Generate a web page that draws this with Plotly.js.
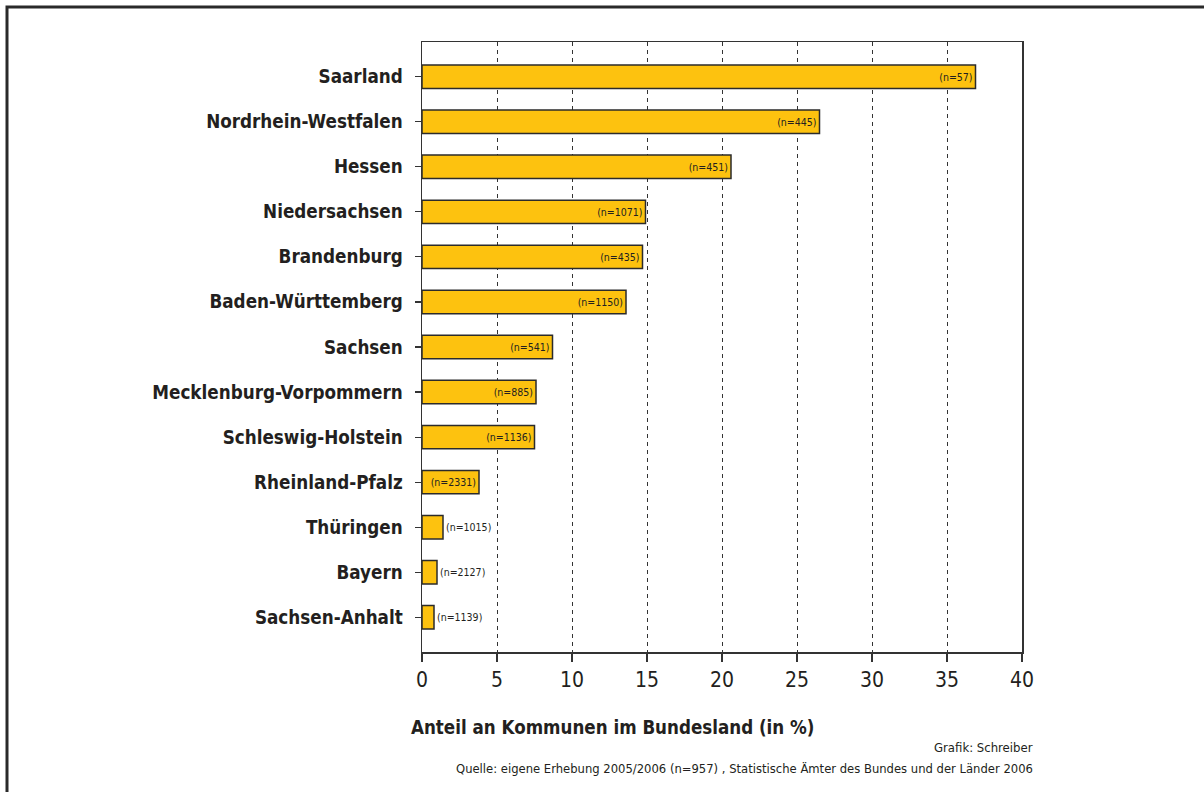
<!DOCTYPE html>
<html><head><meta charset="utf-8">
<script src="https://cdn.plot.ly/plotly-3.0.1.min.js"></script>
<style>body{margin:0;background:#fff}#c{width:1204px;height:792px}</style>
</head><body><div id="c"></div>
<script>
const laender = ["Saarland","Nordrhein-Westfalen","Hessen","Niedersachsen","Brandenburg","Baden-Württemberg","Sachsen","Mecklenburg-Vorpommern","Schleswig-Holstein","Rheinland-Pfalz","Thüringen","Bayern","Sachsen-Anhalt"];
const anteil = [36.9,26.5,20.6,14.9,14.7,13.6,8.7,7.6,7.5,3.8,1.4,1.0,0.8];
const anzahl = [57,445,451,1071,435,1150,541,885,1136,2331,1015,2127,1139];
const xTicks = [0,5,10,15,20,25,30,35,40];

const FONT = "'DejaVu Sans Condensed','Liberation Sans Narrow','Arial Narrow',sans-serif";
const TXT = "#231f20";
const labels = anzahl.map(n => "(n=" + n + ")");
const pos = anteil.map(v => v < 3 ? "outside" : "inside");

const trace = {
  type: "bar", orientation: "h",
  x: anteil, y: laender,
  text: labels, textposition: pos,
  insidetextanchor: "end",
  constraintext: "none",
  cliponaxis: false,
  textfont: {family: FONT, size: 10.5, color: TXT},
  marker: {color: "#fdc20f", line: {color: "#2b2b2b", width: 1.5}},
  width: 0.52,
  hoverinfo: "none"
};

const W = 1204, H = 792, L = 422, R = 182, T = 42, B = 140;
const pw = W - L - R, ph = H - T - B;
const px = v => (v - L) / pw;
const py = v => (H - B - v) / ph;

const layout = {
  width: W, height: H,
  margin: {l: L, r: R, t: T, b: B, pad: 0},
  paper_bgcolor: "#fff", plot_bgcolor: "#fff",
  showlegend: false,
  font: {family: FONT, color: TXT},
  xaxis: {
    range: [0, 40], tickvals: xTicks, ticktext: xTicks.map(String),
    showgrid: true, gridcolor: "#333", griddash: "4px,4px", gridwidth: 1,
    zeroline: false,
    showline: true, linecolor: "#333", linewidth: 1.5, mirror: true,
    ticks: "outside", ticklen: 8, tickcolor: "#333", tickwidth: 1.2,
    tickfont: {family: FONT, size: 21, color: TXT}
  },
  yaxis: {
    type: "category", categoryarray: laender, categoryorder: "array",
    range: [12.77, -0.77],
    showgrid: false, zeroline: false,
    showline: true, linecolor: "#333", linewidth: 1.5, mirror: true,
    ticks: "outside", ticklen: 6, tickcolor: "#333", tickwidth: 1.2,
    ticklabelstandoff: 8,
    tickfont: {family: FONT, size: 18.7, color: TXT, weight: "bold"}
  },
  annotations: [
    {xref: "paper", yref: "paper", x: px(612), y: py(727), xanchor: "center", yanchor: "middle",
     text: "<b>Anteil an Kommunen im Bundesland (in %)</b>", showarrow: false,
     font: {family: FONT, size: 18.6, color: TXT}},
    {xref: "paper", yref: "paper", x: px(1035), y: py(747), xanchor: "right", yanchor: "middle",
     text: "Grafik: Schreiber", showarrow: false,
     font: {family: FONT, size: 13, color: TXT}},
    {xref: "paper", yref: "paper", x: px(1035), y: py(768), xanchor: "right", yanchor: "middle",
     text: "Quelle: eigene Erhebung 2005/2006 (n=957) , Statistische Ämter des Bundes und der Länder 2006", showarrow: false,
     font: {family: FONT, size: 12.9, color: TXT}}
  ],
  shapes: [
    {type: "path", xref: "paper", yref: "paper",
     path: "M " + px(7) + " " + py(800) + " L " + px(7) + " " + py(7) + " L " + px(1210) + " " + py(7),
     line: {color: "#2a2a2a", width: 3}, layer: "above"}
  ]
};

Plotly.newPlot("c", [trace], layout, {displayModeBar: false, staticPlot: true});
</script></body></html>
